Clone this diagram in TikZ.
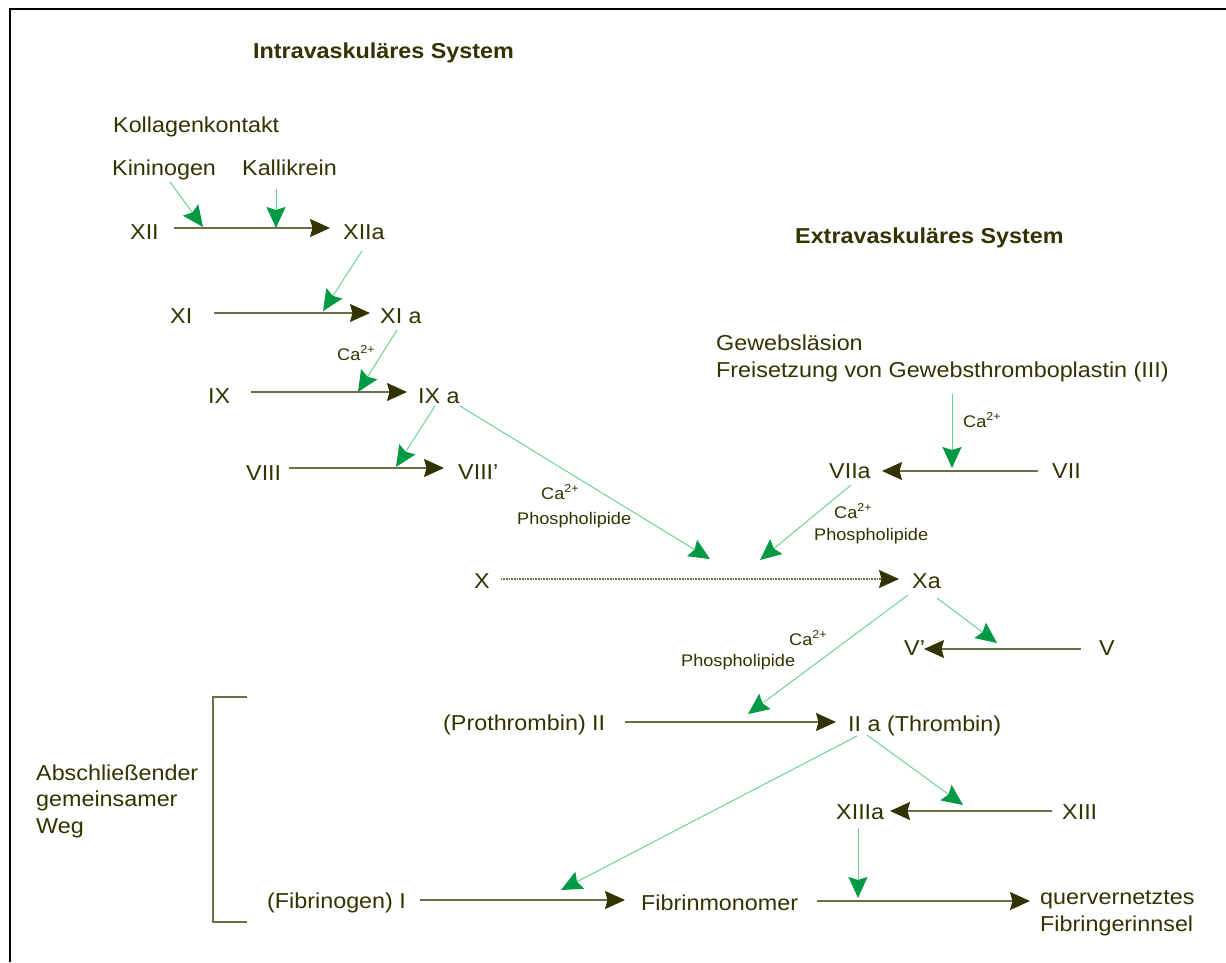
\documentclass[tikz,border=0pt]{standalone}
\usepackage{fontspec}
\setmainfont{Liberation Sans}[FakeStretch=1.08]
\usetikzlibrary{arrows.meta}
\definecolor{txt}{RGB}{51,51,0}
\definecolor{mainline}{RGB}{110,110,70}
\definecolor{mainhead}{RGB}{51,51,0}
\definecolor{greenline}{RGB}{110,210,150}
\definecolor{greenhead}{RGB}{0,153,68}
\newcommand\caz{Ca\raisebox{6.5pt}{\fontsize{11.5}{11.5}\selectfont 2+}}
\tikzset{
 lab/.style={inner sep=0pt, anchor=base west, text=txt, font=\fontsize{21.6}{26.5}\selectfont},
 sm/.style={lab, font=\fontsize{16.8}{19}\selectfont},
 ttl/.style={lab, font=\bfseries\fontsize{21.6}{26.5}\selectfont},
 conv/.style={draw=mainline, line width=1.3pt, -{Stealth[length=20pt,width=18pt,inset=2.5pt,color=mainhead,fill=mainhead]}},
 dotconv/.style={conv, dash pattern=on 1pt off 0.6pt, line width=1.1pt},
 act/.style={draw=greenline, line width=1pt, -{Stealth[length=21pt,width=19pt,inset=3pt,color=greenhead,fill=greenhead]}},
 brack/.style={draw=mainline, line width=1.2pt},
 frame/.style={draw=black, line width=2.2pt},
}
\begin{document}
\begin{tikzpicture}[x=1pt,y=-1pt]
\useasboundingbox (0,0) rectangle (1226,962);
\fill[white] (0,0) rectangle (1226,962);
\draw[frame] (10,962) -- (10,9) -- (1226,9);

% texts
\node[ttl] (intra) at (253,58) {Intravaskuläres System};
\node[ttl] (extra) at (795,243) {Extravaskuläres System};
\node[lab] (koll) at (113,132) {Kollagenkontakt};
\node[lab] (kin) at (112,175) {Kininogen};
\node[lab] (kal) at (242,175) {Kallikrein};
\node[lab] (xii) at (130,239) {XII};
\node[lab] (xiia) at (343,239) {XIIa};
\node[lab] (xi) at (170,323) {XI};
\node[lab] (xia) at (380,323) {XI a};
\node[sm] (ca1) at (337,360) {\caz};
\node[lab] (ix) at (208,403) {IX};
\node[lab] (ixa) at (418,403) {IX a};
\node[lab] (viii) at (246,480) {VIII};
\node[lab] (viiip) at (458,479) {VIII’};
\node[sm] (ca2) at (541,499) {\caz};
\node[sm] (ph1) at (517,524) {Phospholipide};
\node[lab] (gew) at (716,350) {Gewebsläsion};
\node[lab] (frei) at (716,377) {Freisetzung von Gewebsthromboplastin (III)};
\node[sm] (ca3) at (963,427) {\caz};
\node[lab] (viia) at (829,478) {VIIa};
\node[lab] (vii) at (1052,478) {VII};
\node[sm] (ca4) at (834,518) {\caz};
\node[sm] (ph2) at (814,540) {Phospholipide};
\node[lab] (x) at (474,588) {X};
\node[lab] (xa) at (912,588) {Xa};
\node[sm] (ca5) at (789,645) {\caz};
\node[sm] (ph3) at (681,666) {Phospholipide};
\node[lab] (vp) at (904,655) {V’};
\node[lab] (v) at (1099,655) {V};
\node[lab] (proth) at (443,730) {(Prothrombin) II};
\node[lab] (iia) at (848,731) {II a (Thrombin)};
\node[lab] (xiiia) at (836,819) {XIIIa};
\node[lab] (xiii) at (1062,819) {XIII};
\node[lab] (fibg) at (267,908) {(Fibrinogen) I};
\node[lab] (fibm) at (641,910) {Fibrinmonomer};
\node[lab, align=left] (quer) at (1040,931) {quervernetztes\\Fibringerinnsel};
\node[lab, align=left] (absch) at (36,833) {Abschließender\\gemeinsamer\\Weg};

% connector end points
\coordinate (c-xii) at (174,228);   \coordinate (c-xiia) at (330,228);
\coordinate (c-xi) at (214,313);    \coordinate (c-xia) at (370,313);
\coordinate (c-ix) at (251,392);    \coordinate (c-ixa) at (407,392);
\coordinate (c-viii) at (289,468);  \coordinate (c-viiip) at (444,468);
\coordinate (c-x) at (501,579);     \coordinate (c-xa) at (899,579);
\coordinate (c-vii) at (1038,471);  \coordinate (c-viia) at (882,471);
\coordinate (c-v) at (1081,649);    \coordinate (c-vp) at (924,649);
\coordinate (c-proth) at (625,722); \coordinate (c-iia) at (836,722);
\coordinate (c-xiii) at (1052,811); \coordinate (c-xiiia) at (890,811);
\coordinate (c-fibg) at (420,900);  \coordinate (c-fibm) at (625,900);
\coordinate (c-fibm2) at (817,901); \coordinate (c-quer) at (1030,901);

\coordinate (g-kin) at (170,182);   \coordinate (t-kin) at (203,227);
\coordinate (g-kal) at (276,189);   \coordinate (t-kal) at (276,228);
\coordinate (g-xiia) at (362,251);  \coordinate (t-xi) at (323,311);
\coordinate (g-xia) at (397,330);   \coordinate (t-ix) at (358,392);
\coordinate (g-ixa) at (435,406);   \coordinate (t-viii) at (396,467);
\coordinate (g-ixa2) at (460,406);  \coordinate (t-x1) at (710,559);
\coordinate (g-gew) at (952,394);   \coordinate (t-vii) at (952,468);
\coordinate (g-viia) at (851,485);  \coordinate (t-x2) at (760,560);
\coordinate (g-xa) at (937,598);    \coordinate (t-v) at (997,643);
\coordinate (g-xa2) at (908,595);   \coordinate (t-ii) at (748,714);
\coordinate (g-iia) at (867,735);   \coordinate (t-xiii) at (963,805);
\coordinate (g-iia2) at (857,736);  \coordinate (t-fib) at (561,890);
\coordinate (g-xiiia) at (858,828); \coordinate (t-quer) at (858,898);

% conversions
\draw[conv] (c-xii) -- (c-xiia);
\draw[conv] (c-xi) -- (c-xia);
\draw[conv] (c-ix) -- (c-ixa);
\draw[conv] (c-viii) -- (c-viiip);
\draw[dotconv] (c-x) -- (c-xa);
\draw[conv] (c-vii) -- (c-viia);
\draw[conv] (c-v) -- (c-vp);
\draw[conv] (c-proth) -- (c-iia);
\draw[conv] (c-xiii) -- (c-xiiia);
\draw[conv] (c-fibg) -- (c-fibm);
\draw[conv] (c-fibm2) -- (c-quer);

% activations
\draw[act] (g-kin) -- (t-kin);
\draw[act] (g-kal) -- (t-kal);
\draw[act] (g-xiia) -- (t-xi);
\draw[act] (g-xia) -- (t-ix);
\draw[act] (g-ixa) -- (t-viii);
\draw[act] (g-ixa2) -- (t-x1);
\draw[act] (g-gew) -- (t-vii);
\draw[act] (g-viia) -- (t-x2);
\draw[act] (g-xa) -- (t-v);
\draw[act] (g-xa2) -- (t-ii);
\draw[act] (g-iia) -- (t-xiii);
\draw[act] (g-iia2) -- (t-fib);
\draw[act] (g-xiiia) -- (t-quer);

% bracket
\coordinate (b1) at (247,697); \coordinate (b2) at (213,697);
\coordinate (b3) at (213,922); \coordinate (b4) at (247,922);
\draw[brack] (b1) -- (b2) -- (b3) -- (b4);
\end{tikzpicture}
\end{document}
